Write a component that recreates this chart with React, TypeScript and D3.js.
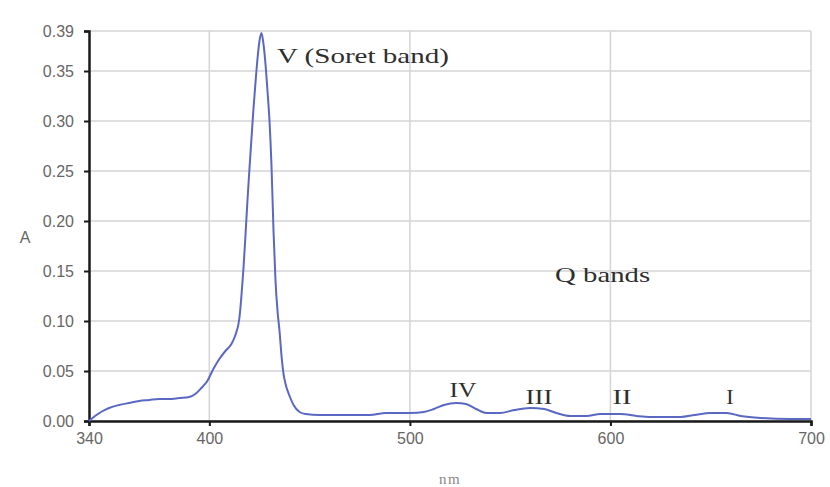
import React, { useEffect, useRef } from 'react';
import * as d3 from 'd3';

// spectrum (wavelength nm, absorbance)
const wavelengths = [
  340, 343, 346, 350, 355, 360, 365, 370, 375, 380, 385, 390, 393, 396, 399, 402, 405, 408, 411, 413,
  415, 416, 417, 418, 419, 420, 421, 422, 423, 424, 425, 426, 427, 428, 429, 430, 431, 432, 433, 434,
  435, 436, 437, 438, 440, 442, 445, 448, 455, 470, 480, 488, 500, 507, 512, 517, 523, 528, 533, 538,
  545, 552, 560, 567, 573, 580, 588, 595, 605, 613, 620, 635, 642, 650, 658, 665, 675, 690, 700,
];
const absorbance = [
  0.0, 0.005, 0.009, 0.013, 0.016, 0.018, 0.02, 0.021, 0.022, 0.022, 0.023, 0.024, 0.027, 0.033, 0.04, 0.052, 0.062, 0.07, 0.077, 0.086,
  0.103, 0.125, 0.152, 0.185, 0.22, 0.252, 0.282, 0.312, 0.338, 0.362, 0.38, 0.388, 0.377, 0.357, 0.33, 0.3, 0.255, 0.19, 0.14, 0.11,
  0.09, 0.065, 0.047, 0.037, 0.025, 0.016, 0.009, 0.007, 0.006, 0.006, 0.006, 0.008, 0.008, 0.009, 0.012, 0.016, 0.018, 0.017, 0.012, 0.008,
  0.008, 0.011, 0.013, 0.012, 0.008, 0.005, 0.005, 0.007, 0.007, 0.005, 0.004, 0.004, 0.006, 0.008, 0.008, 0.005, 0.003, 0.002, 0.002,
];

const xTicks = [340, 400, 500, 600, 700];
const xGrid = [400, 500, 600, 700];
const yTicks = [0, 0.05, 0.1, 0.15, 0.2, 0.25, 0.3, 0.35, 0.39];

// band labels, anchored in data units
const bandLabels = ['V (Soret band)', 'Q bands', 'IV', 'III', 'II', 'I'];
const bandNm = [433.7, 572.4, 526.5, 564.4, 605.8, 659.6];
const bandA = [0.358, 0.139, 0.024, 0.017, 0.017, 0.017];

// rendered width of each label in the picture (the scan is stretched sideways)
const labelWidth: Record<string, number> = {
  'V (Soret band)': 172,
  'Q bands': 95,
  IV: 27,
  III: 27,
  II: 19,
};

const App = () => {
  const ref = useRef<SVGSVGElement>(null);

  useEffect(() => {
    const svg = d3.select(ref.current);
    svg.selectAll('*').remove();

    const margin = { top: 31, right: 19, bottom: 66, left: 89 };
    const width = 830 - margin.left - margin.right;
    const height = 487 - margin.top - margin.bottom;

    const x = d3.scaleLinear().domain([340, 700]).range([0, width]);
    const y = d3.scaleLinear().domain([0, 0.39]).range([height, 0]);

    const g = svg.append('g').attr('transform', `translate(${margin.left},${margin.top})`);

    // grid
    g.selectAll('.hgrid')
      .data(yTicks)
      .enter().append('line')
      .attr('x1', 0)
      .attr('x2', width)
      .attr('y1', d => y(d))
      .attr('y2', d => y(d))
      .attr('stroke', '#d4d4d4')
      .attr('stroke-width', 1.5);

    g.selectAll('.vgrid')
      .data(xGrid)
      .enter().append('line')
      .attr('x1', d => x(d))
      .attr('x2', d => x(d))
      .attr('y1', 0)
      .attr('y2', height)
      .attr('stroke', '#d4d4d4')
      .attr('stroke-width', 1.5);

    // axes
    const xAxis = g.append('g')
      .attr('transform', `translate(0,${height})`)
      .call(d3.axisBottom(x).tickValues(xTicks).tickSize(5).tickFormat(d3.format('d')));
    const yAxis = g.append('g')
      .call(d3.axisLeft(y).tickValues(yTicks).tickSize(5).tickFormat(d3.format('.2f')));

    [xAxis, yAxis].forEach(a => {
      a.select('.domain').attr('stroke', '#1a1a1a').attr('stroke-width', 2.5);
      a.selectAll('.tick line').attr('stroke', '#1a1a1a').attr('stroke-width', 2);
      a.selectAll('.tick text')
        .attr('fill', '#666')
        .style('font-family', 'Arial, "Liberation Sans", sans-serif')
        .style('font-size', '16px');
    });
    xAxis.selectAll('.tick text').attr('y', 12).attr('dy', '0.71em');
    yAxis.selectAll('.tick text').attr('x', -15);

    // spectrum
    const line = d3.line<number>()
      .x((d, i) => x(wavelengths[i]))
      .y(d => y(d))
      .curve(d3.curveMonotoneX);

    g.append('path')
      .datum(absorbance)
      .attr('d', line)
      .attr('fill', 'none')
      .attr('stroke', '#5a68c4')
      .attr('stroke-width', 2);

    // band labels
    const labels = g.selectAll('.band')
      .data(bandLabels)
      .enter().append('text')
      .attr('x', (d, i) => x(bandNm[i]))
      .attr('y', (d, i) => y(bandA[i]))
      .attr('text-anchor', d => (d.length > 3 ? 'start' : 'middle'))
      .attr('fill', '#2e2e2e')
      .style('font-family', '"Liberation Serif", "Times New Roman", serif')
      .style('font-size', '22px')
      .text(d => d);
    labels.filter(d => labelWidth[d] !== undefined)
      .attr('textLength', d => labelWidth[d])
      .attr('lengthAdjust', 'spacingAndGlyphs');

    // axis titles
    svg.append('text')
      .attr('x', 25)
      .attr('y', 243)
      .attr('text-anchor', 'middle')
      .attr('fill', '#666')
      .style('font-family', 'Arial, "Liberation Sans", sans-serif')
      .style('font-size', '16px')
      .text('A');

    svg.append('text')
      .attr('x', 450)
      .attr('y', 484)
      .attr('text-anchor', 'middle')
      .attr('fill', '#888')
      .style('font-family', '"Liberation Serif", serif')
      .style('font-size', '15px')
      .style('letter-spacing', '1.5px')
      .text('nm');
  }, []);

  return (
    <svg ref={ref} width={830} height={487} style={{ position: 'absolute', left: 0, top: 0, background: '#fff' }} />
  );
};

export default App;
